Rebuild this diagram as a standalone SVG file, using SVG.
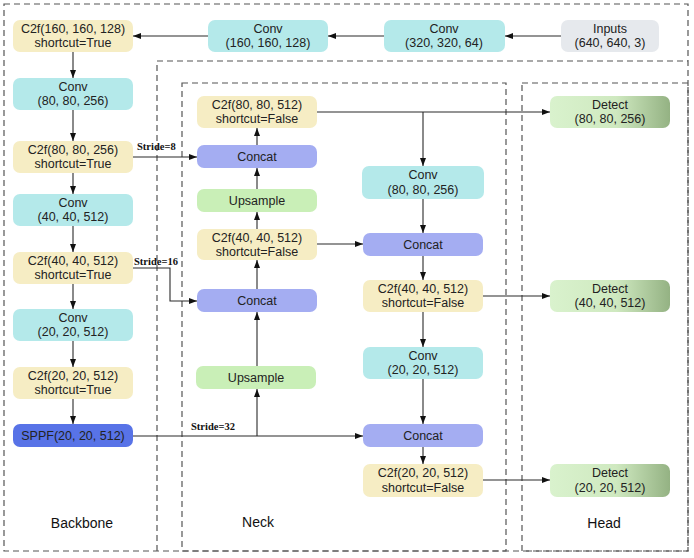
<svg xmlns="http://www.w3.org/2000/svg" width="694" height="558" viewBox="0 0 694 558">
<defs>
  <marker id="arr" markerWidth="8" markerHeight="6" refX="8" refY="3" orient="auto" markerUnits="userSpaceOnUse">
    <path d="M0,0 L8,3 L0,6 z" fill="#111"/>
  </marker>
  <linearGradient id="detg" x1="0" y1="0" x2="1" y2="0">
    <stop offset="0" stop-color="#d9f2cd"/>
    <stop offset="0.55" stop-color="#cfe9c0"/>
    <stop offset="1" stop-color="#94b283"/>
  </linearGradient>
  <style>
    .frame{fill:none;stroke:#555;stroke-width:1.2;stroke-dasharray:6 4}
    .n rect{rx:7;ry:7}
    .c2f{fill:#f6edc4}
    .conv{fill:#b4e9ea}
    .cat{fill:#a4adf2}
    .up{fill:#c9efb7}
    .sppf{fill:#5873e7}
    .inp{fill:#e6e9ed}
    .det{fill:url(#detg)}
    .t{font-family:"Liberation Sans",Arial,sans-serif;font-size:12.5px;fill:#222;text-anchor:middle}
    .lbl{font-family:"Liberation Sans",Arial,sans-serif;font-size:14px;fill:#111;text-anchor:middle}
    .s{font-family:"Liberation Serif","Times New Roman",serif;font-size:10.5px;font-weight:bold;fill:#111}
    .e{fill:none;stroke:#2a2a2a;stroke-width:1.1;marker-end:url(#arr)}
  </style>
</defs>
<rect width="694" height="558" fill="#fff"/>
<g id="frames">
  <rect class="frame" x="4" y="4" width="684" height="547"/>
  <path class="frame" d="M157,551 V61 H688"/>
  <rect class="frame" x="182" y="83" width="324" height="468"/>
  <rect class="frame" x="522" y="83" width="166" height="468"/>
</g>
<g id="connectors">
  <path class="e" d="M561,36 H505"/>
  <path class="e" d="M384,36 H328"/>
  <path class="e" d="M208,36 H133"/>
  <path class="e" d="M73,52 V78"/>
  <path class="e" d="M73,110 V141"/>
  <path class="e" d="M73,173 V194"/>
  <path class="e" d="M73,226 V252"/>
  <path class="e" d="M73,284 V309"/>
  <path class="e" d="M73,341 V367"/>
  <path class="e" d="M73,399 V424"/>
  <path class="e" d="M133,157 H197"/>
  <path class="e" d="M133,268 H170 V301 H197"/>
  <path class="e" d="M133,436 H363"/>
  <path class="e" d="M257,436 V389"/>
  <path class="e" d="M257,366 V312"/>
  <path class="e" d="M257,289 V260"/>
  <path class="e" d="M257,229 V212"/>
  <path class="e" d="M257,189 V168"/>
  <path class="e" d="M257,145 V128"/>
  <path class="e" d="M317,112 H550"/>
  <path class="e" d="M423,112 V166"/>
  <path class="e" d="M423,199 V233"/>
  <path class="e" d="M317,244 H363"/>
  <path class="e" d="M423,256 V280"/>
  <path class="e" d="M483,296 H550"/>
  <path class="e" d="M423,312 V347"/>
  <path class="e" d="M423,379 V424"/>
  <path class="e" d="M423,447 V464"/>
  <path class="e" d="M483,480 H550"/>
  <text class="s" x="137" y="150">Stride=8</text>
  <text class="s" x="134" y="265">Stride=16</text>
  <text class="s" x="191" y="430">Stride=32</text>
</g>
<g id="bb_c2f1" class="n"><rect class="c2f" x="13" y="20" width="120" height="32"/><text class="t" x="73" y="33">C2f(160, 160, 128)</text><text class="t" x="73" y="47">shortcut=True</text></g>
<g id="bb_conv2" class="n"><rect class="conv" x="13" y="78" width="120" height="32"/><text class="t" x="73" y="91">Conv</text><text class="t" x="73" y="105">(80, 80, 256)</text></g>
<g id="bb_c2f2" class="n"><rect class="c2f" x="13" y="141" width="120" height="32"/><text class="t" x="73" y="154">C2f(80, 80, 256)</text><text class="t" x="73" y="168">shortcut=True</text></g>
<g id="bb_conv3" class="n"><rect class="conv" x="13" y="194" width="120" height="32"/><text class="t" x="73" y="207">Conv</text><text class="t" x="73" y="221">(40, 40, 512)</text></g>
<g id="bb_c2f3" class="n"><rect class="c2f" x="13" y="252" width="120" height="32"/><text class="t" x="73" y="265">C2f(40, 40, 512)</text><text class="t" x="73" y="279">shortcut=True</text></g>
<g id="bb_conv4" class="n"><rect class="conv" x="13" y="309" width="120" height="32"/><text class="t" x="73" y="322">Conv</text><text class="t" x="73" y="336">(20, 20, 512)</text></g>
<g id="bb_c2f4" class="n"><rect class="c2f" x="13" y="367" width="120" height="32"/><text class="t" x="73" y="380">C2f(20, 20, 512)</text><text class="t" x="73" y="394">shortcut=True</text></g>
<g id="bb_sppf" class="n"><rect class="sppf" x="13" y="424" width="120" height="23"/><text class="t" x="73" y="440">SPPF(20, 20, 512)</text></g>
<g id="conv160" class="n"><rect class="conv" x="208" y="20" width="120" height="32"/><text class="t" x="268" y="33">Conv</text><text class="t" x="268" y="47">(160, 160, 128)</text></g>
<g id="conv320" class="n"><rect class="conv" x="384" y="20" width="121" height="32"/><text class="t" x="444" y="33">Conv</text><text class="t" x="444" y="47">(320, 320, 64)</text></g>
<g id="inputs" class="n"><rect class="inp" x="561" y="20" width="98" height="32"/><text class="t" x="610" y="33">Inputs</text><text class="t" x="610" y="47">(640, 640, 3)</text></g>
<g id="n_c2f80" class="n"><rect class="c2f" x="197" y="96" width="120" height="32"/><text class="t" x="257" y="109">C2f(80, 80, 512)</text><text class="t" x="257" y="123">shortcut=False</text></g>
<g id="n_concat1" class="n"><rect class="cat" x="197" y="145" width="120" height="23"/><text class="t" x="257" y="161">Concat</text></g>
<g id="n_up1" class="n"><rect class="up" x="197" y="189" width="120" height="23"/><text class="t" x="257" y="205">Upsample</text></g>
<g id="n_c2f40" class="n"><rect class="c2f" x="197" y="229" width="120" height="31"/><text class="t" x="257" y="242">C2f(40, 40, 512)</text><text class="t" x="257" y="256">shortcut=False</text></g>
<g id="n_concat2" class="n"><rect class="cat" x="197" y="289" width="120" height="23"/><text class="t" x="257" y="305">Concat</text></g>
<g id="n_up2" class="n"><rect class="up" x="196" y="366" width="120" height="23"/><text class="t" x="256" y="382">Upsample</text></g>
<g id="n_conv80" class="n"><rect class="conv" x="362" y="166" width="122" height="33"/><text class="t" x="423" y="179">Conv</text><text class="t" x="423" y="194">(80, 80, 256)</text></g>
<g id="n_concat3" class="n"><rect class="cat" x="363" y="233" width="120" height="23"/><text class="t" x="423" y="249">Concat</text></g>
<g id="n_c2f40b" class="n"><rect class="c2f" x="363" y="280" width="120" height="32"/><text class="t" x="423" y="293">C2f(40, 40, 512)</text><text class="t" x="423" y="307">shortcut=False</text></g>
<g id="n_conv20" class="n"><rect class="conv" x="363" y="347" width="120" height="32"/><text class="t" x="423" y="360">Conv</text><text class="t" x="423" y="374">(20, 20, 512)</text></g>
<g id="n_concat4" class="n"><rect class="cat" x="363" y="424" width="120" height="23"/><text class="t" x="423" y="440">Concat</text></g>
<g id="n_c2f20" class="n"><rect class="c2f" x="363" y="464" width="120" height="33"/><text class="t" x="423" y="477">C2f(20, 20, 512)</text><text class="t" x="423" y="492">shortcut=False</text></g>
<g id="det1" class="n"><rect class="det" x="550" y="96" width="120" height="32"/><text class="t" x="610" y="109">Detect</text><text class="t" x="610" y="123">(80, 80, 256)</text></g>
<g id="det2" class="n"><rect class="det" x="550" y="280" width="120" height="32"/><text class="t" x="610" y="293">Detect</text><text class="t" x="610" y="307">(40, 40, 512)</text></g>
<g id="det3" class="n"><rect class="det" x="550" y="464" width="120" height="33"/><text class="t" x="610" y="477">Detect</text><text class="t" x="610" y="492">(20, 20, 512)</text></g>
<g id="labels">
  <text class="lbl" x="82" y="528">Backbone</text>
  <text class="lbl" x="258" y="527">Neck</text>
  <text class="lbl" x="604" y="528">Head</text>
</g>
</svg>
